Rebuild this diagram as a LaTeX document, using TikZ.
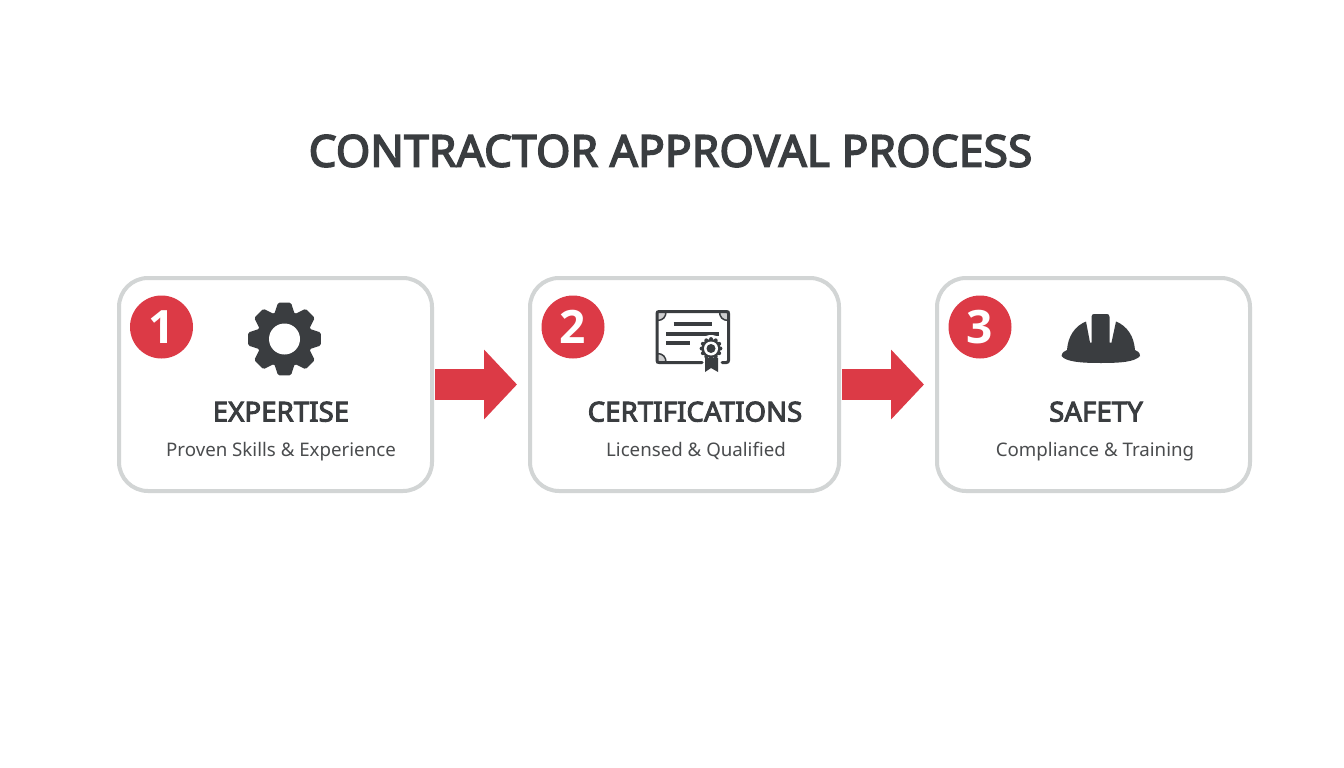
\documentclass[tikz,border=0pt]{standalone}
\usepackage{fontspec}
\setmainfont{Noto Sans}
\newfontfamily\badgefont{Open Sans}
\newfontfamily\strongfont[FakeBold=3.6,LetterSpace=0.6]{Noto Sans}
\usetikzlibrary{arrows.meta,calc}
\definecolor{ink}{HTML}{3A3D40}
\definecolor{subink}{HTML}{4A4C4E}
\definecolor{edgegrey}{HTML}{D2D5D5}
\definecolor{redmain}{HTML}{DC3A46}
\tikzset{
  card/.style={draw=edgegrey,line width=4pt,fill=white,rounded corners=29pt,minimum height=213pt,anchor=north west,inner sep=0pt,outer sep=2pt},
  badge/.style={circle,fill=redmain,minimum size=63pt,inner sep=0pt,text=white,font=\badgefont\fontsize{46}{46}\selectfont\bfseries},
  head/.style={text=ink,anchor=base,font=\strongfont\fontsize{27.4}{27.4}\selectfont,inner sep=0pt},
  sub/.style={text=subink,anchor=base,font=\fontsize{18.7}{18.7}\selectfont,inner sep=0pt},
  flow/.style={draw=redmain,line width=31pt,-{Triangle[length=33pt,width=68pt]},shorten >=11pt,shorten <=1pt},
  ornament/.style={draw=ink,fill=ink!25,line width=1.5pt},
}
\begin{document}
\begin{tikzpicture}[x=1pt,y=-1pt]
\useasboundingbox (0,0) rectangle (1344,768);
\fill[white] (0,0) rectangle (1344,768);
\node[text=ink,anchor=base,font=\strongfont\fontsize{44}{44}\selectfont,inner sep=0pt] (title) at (670.5,166.7) {CONTRACTOR APPROVAL PROCESS};
\node[card,minimum width=313pt] (c1) at (117,276) {};
\node[card,minimum width=309pt] (c2) at (528,276) {};
\node[card,minimum width=313pt] (c3) at (935,276) {};
\draw[flow] (c1.east) -- (c2.west);
\draw[flow] (c2.east) -- (c3.west);
\node[badge] (b1) at (161.5,327) {1};
\node[badge] (b2) at (573,327) {2};
\node[badge] (b3) at (980,327) {3};
\node[head] (h1) at (281,421.5) {EXPERTISE};
\node[sub] (s1) at (281,456) {Proven Skills \& Experience};
\node[head] (h2) at (695,421.5) {CERTIFICATIONS};
\node[sub] (s2) at (696,456) {Licensed \& Qualified};
\node[head] (h3) at (1096,421.5) {SAFETY};
\node[sub] (s3) at (1095,456) {Compliance \& Training};
% gear
\begin{scope}[shift={(284.5,339)}]
\fill[ink] (0,0) circle (28);
\foreach \a in {0,45,...,315}{
  \fill[ink,rotate=\a,rounded corners=1.5pt] (-10.5,-24) -- (-6.5,-36.3) -- (6.5,-36.3) -- (10.5,-24) -- cycle;
}
\fill[white] (0,0) circle (15.5);
\end{scope}
% certificate
\draw[ornament] (657,311.5) -- (666,311.5) .. controls (666,317) and (663,320.5) .. (657,320.5) -- cycle;
\draw[ornament] (728.5,311.5) -- (719.5,311.5) .. controls (719.5,317) and (722.5,320.5) .. (728.5,320.5) -- cycle;
\draw[ornament] (657,362.5) -- (666,362.5) .. controls (666,357) and (663,353.5) .. (657,353.5) -- cycle;
\draw[ink,line width=3pt,line cap=round,line join=round,rounded corners=2pt]
  (702,362.5) -- (657,362.5) -- (657,311.5) -- (728.5,311.5) -- (728.5,362.5) -- (722,362.5);
\draw[ink,line width=4pt] (673.5,323.5) -- (712,323.5);
\draw[ink,line width=4pt] (666,334) -- (719,334);
\draw[ink,line width=4pt] (666,342.5) -- (690,342.5);
\fill[white] (711,348.5) circle (13.5);
\fill[ink] (705,358) -- (705,372) -- (711,368) -- (718,372) -- (718,358) -- cycle;
\foreach \a in {0,30,...,330}{\fill[ink] (711,348.5) ++(\a:9.4) circle (2);}
\fill[ink] (711,348.5) circle (9.5);
\fill[white] (711,348.5) circle (7);
\fill[ink] (711,348.5) circle (4.5);
% helmet
\fill[ink] (1061.5,356) .. controls (1062,352) and (1065,351) .. (1067,350)
  .. controls (1068,336) and (1075,326) .. (1086,321.5)
  -- (1090,342.5) -- (1091.5,342.5) -- (1091.5,317) .. controls (1091.5,315) and (1092.5,314) .. (1094,314)
  -- (1107,314) .. controls (1108.5,314) and (1109.5,315) .. (1109.5,317) -- (1109.5,342.5) -- (1111.5,342.5)
  -- (1116,321.5) .. controls (1127,326) and (1134,336) .. (1135,350)
  .. controls (1137,351) and (1140,352) .. (1140,356)
  .. controls (1135,362) and (1120,363) .. (1101,363) .. controls (1082,363) and (1066,362) .. (1061.5,356) -- cycle;
\end{tikzpicture}
\end{document}
